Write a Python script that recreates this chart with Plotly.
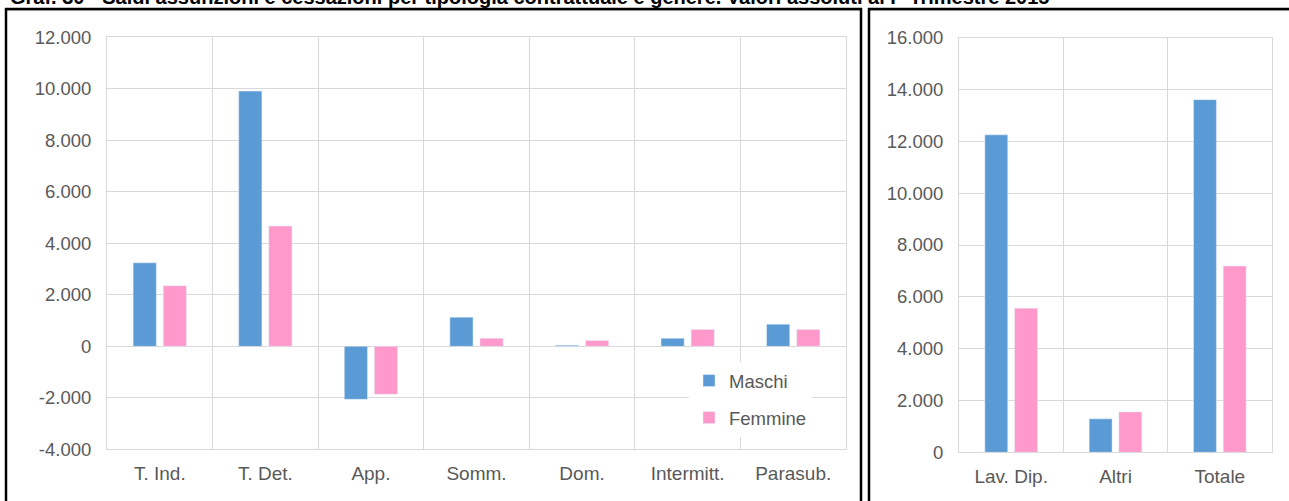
import plotly.graph_objects as go

# Saldi per tipologia contrattuale (pannello sinistro)
categorie = ["T. Ind.", "T. Det.", "App.", "Somm.", "Dom.", "Intermitt.", "Parasub."]
maschi = [3240, 9910, -2060, 1130, 40, 310, 860]
femmine = [2350, 4670, -1860, 310, 230, 650, 650]

# Totali (pannello destro)
categorie_tot = ["Lav. Dip.", "Altri", "Totale"]
maschi_tot = [12250, 1290, 13610]
femmine_tot = [5560, 1560, 7190]

# Etichette degli assi
tick_sx = [-4000, -2000, 0, 2000, 4000, 6000, 8000, 10000, 12000]
tick_sx_txt = ["-4.000", "-2.000", "0", "2.000", "4.000", "6.000", "8.000", "10.000", "12.000"]
tick_dx = [0, 2000, 4000, 6000, 8000, 10000, 12000, 14000, 16000]
tick_dx_txt = ["0", "2.000", "4.000", "6.000", "8.000", "10.000", "12.000", "14.000", "16.000"]

titolo = ("Graf. 30 - Saldi assunzioni e cessazioni per tipologia contrattuale e genere. "
          "Valori assoluti al I° Trimestre 2015")

BLU = "#5B9BD5"
ROSA = "#FF99CC"
GRIGIO = "#D9D9D9"
TESTO = "#595959"
FONT = "Liberation Sans, Arial, sans-serif"

W, H = 1289, 501


def px(x):
    return x / W


def py(y):
    return 1 - y / H


fig = go.Figure()

fig.add_trace(go.Bar(x=categorie, y=maschi, name="Maschi", marker_color=BLU,
                     xaxis="x", yaxis="y", legendgroup="m"))
fig.add_trace(go.Bar(x=categorie, y=femmine, name="Femmine", marker_color=ROSA,
                     xaxis="x", yaxis="y", legendgroup="f"))
fig.add_trace(go.Bar(x=categorie_tot, y=maschi_tot, name="Maschi", marker_color=BLU,
                     xaxis="x2", yaxis="y2", legendgroup="m", showlegend=False))
fig.add_trace(go.Bar(x=categorie_tot, y=femmine_tot, name="Femmine", marker_color=ROSA,
                     xaxis="x2", yaxis="y2", legendgroup="f", showlegend=False))

asse_x = dict(type="category", tickson="boundaries", showgrid=True, gridcolor=GRIGIO,
              gridwidth=1, showline=True, mirror=True, linecolor=GRIGIO, linewidth=1,
              ticks="", ticklabelstandoff=7, fixedrange=True, automargin=False,
              tickfont=dict(family=FONT, size=19, color=TESTO))
asse_y = dict(showgrid=True, gridcolor=GRIGIO, gridwidth=1, showline=True, mirror=True,
              linecolor=GRIGIO, linewidth=1, zeroline=True, zerolinecolor=GRIGIO,
              zerolinewidth=1, ticks="", ticklabelstandoff=11, fixedrange=True,
              automargin=False, tickfont=dict(family=FONT, size=18.5, color=TESTO))

fig.update_layout(
    width=W, height=H,
    margin=dict(l=0, r=0, t=0, b=0, autoexpand=False),
    paper_bgcolor="white", plot_bgcolor="white",
    barmode="group", bargap=0.43, bargroupgap=0.23,
    xaxis=dict(asse_x, domain=[px(107), px(846)], anchor="y"),
    yaxis=dict(asse_y, domain=[py(449.3), py(37.3)], anchor="x",
               range=[-4000, 12000], tickvals=tick_sx, ticktext=tick_sx_txt),
    xaxis2=dict(asse_x, domain=[px(959), px(1272)], anchor="y2"),
    yaxis2=dict(asse_y, domain=[py(452.3), py(37.7)], anchor="x2",
                range=[0, 16000], tickvals=tick_dx, ticktext=tick_dx_txt),
    showlegend=True,
    legend=dict(x=px(689), y=py(362), xanchor="left", yanchor="top",
                bgcolor="white", borderwidth=0, itemwidth=30,
                font=dict(family=FONT, size=18.5, color=TESTO)),
)

# Titolo (parzialmente tagliato dal bordo superiore)
fig.add_annotation(text="<b>" + titolo + "</b>", xref="paper", yref="paper",
                   x=px(8), y=py(10), xanchor="left", yanchor="bottom", showarrow=False,
                   font=dict(family=FONT, size=20, color="black"))

# Cornici dei due pannelli
cornici = []
for x0, x1 in [(6, 861), (869, 1295)]:
    cornici.append(dict(type="line", xref="paper", yref="paper",
                        x0=px(x0), x1=px(x1), y0=py(10.6), y1=py(10.6),
                        line=dict(color="#BFBFBF", width=1)))
    cornici.append(dict(type="line", xref="paper", yref="paper",
                        x0=px(x0 - 1), x1=px(x1 + 1), y0=py(9), y1=py(9),
                        line=dict(color="black", width=2.5)))
    cornici.append(dict(type="line", xref="paper", yref="paper",
                        x0=px(x0), x1=px(x0), y0=py(8), y1=py(510),
                        line=dict(color="black", width=2.5)))
cornici.append(dict(type="line", xref="paper", yref="paper",
                    x0=px(861), x1=px(861), y0=py(8), y1=py(510),
                    line=dict(color="black", width=2.5)))
fig.update_layout(shapes=cornici)

fig.write_html("out.html")
